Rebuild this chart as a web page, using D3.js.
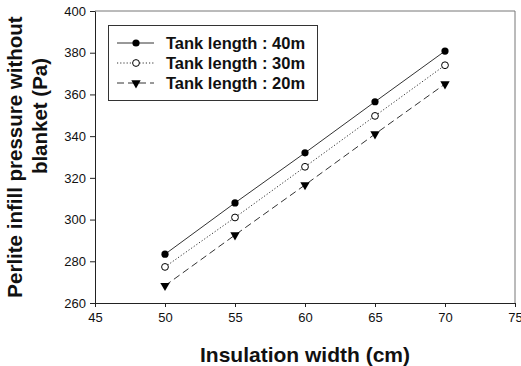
<!DOCTYPE html>
<html>
<head>
<meta charset="utf-8">
<script src="https://cdn.jsdelivr.net/npm/d3@7.9.0/dist/d3.min.js"></script>
<style>
  body { margin: 0; background: #fff; }
  svg { display: block; font-family: Arial, "Liberation Sans", sans-serif; }
</style>
</head>
<body>
<svg id="chart" width="521" height="366"></svg>
<script>
const widths = [50, 55, 60, 65, 70];
const len40 = [283.4, 308, 332, 356.5, 380.8];
const len30 = [277.3, 301, 325.3, 349.7, 374];
const len20 = [268.3, 292.6, 316.6, 341, 365];
const seriesNames = ['Tank length : 40m', 'Tank length : 30m', 'Tank length : 20m'];
const xTicks = [45, 50, 55, 60, 65, 70, 75];
const yTicks = [260, 280, 300, 320, 340, 360, 380, 400];

const svg = d3.select('#chart');
const L = 95, R = 515, T = 11, B = 303;

const x = d3.scaleLinear().domain([45, 75]).range([L, R]);
const y = d3.scaleLinear().domain([260, 400]).range([B, T]);

// frame (top/right)
svg.append('path')
  .attr('d', `M${L},${T}H${R}V${B}`)
  .attr('fill', 'none').attr('stroke', '#777').attr('stroke-width', 1);

const xAxis = svg.append('g').attr('transform', `translate(0,${B})`)
  .call(d3.axisBottom(x).tickValues(xTicks).tickSize(4).tickSizeOuter(0).tickPadding(6));
const yAxis = svg.append('g').attr('transform', `translate(${L},0)`)
  .call(d3.axisLeft(y).tickValues(yTicks).tickSize(5).tickSizeOuter(0).tickPadding(4));
[xAxis, yAxis].forEach(a => {
  a.select('.domain').attr('stroke', '#222');
  a.selectAll('.tick line').attr('stroke', '#222');
  a.selectAll('.tick text').attr('fill', '#111').style('font-size', '13px')
    .style('font-family', 'Arial, "Liberation Sans", sans-serif');
});

const series = [
  { name: seriesNames[0], vals: len40, dash: null, marker: 'filled' },
  { name: seriesNames[1], vals: len30, dash: '1.2,2', marker: 'open' },
  { name: seriesNames[2], vals: len20, dash: '7,4', marker: 'tri' },
];

const line = d3.line().x(d => x(d[0])).y(d => y(d[1]));

function drawMarker(g, kind, cx, cy) {
  if (kind === 'filled') {
    g.append('circle').attr('cx', cx).attr('cy', cy).attr('r', 3.6).attr('fill', '#000');
  } else if (kind === 'open') {
    g.append('circle').attr('cx', cx).attr('cy', cy).attr('r', 3.4)
      .attr('fill', '#fff').attr('stroke', '#000').attr('stroke-width', 1);
  } else {
    g.append('path')
      .attr('d', d3.symbol().type(d3.symbolTriangle).size(38))
      .attr('transform', `translate(${cx},${cy}) rotate(180)`)
      .attr('fill', '#000');
  }
}

series.forEach(s => {
  const pts = widths.map((w, i) => [w, s.vals[i]]);
  svg.append('path').attr('d', line(pts))
    .attr('fill', 'none').attr('stroke', '#333').attr('stroke-width', 1)
    .attr('stroke-dasharray', s.dash);
  const g = svg.append('g');
  pts.forEach(p => drawMarker(g, s.marker, x(p[0]), y(p[1])));
});

// legend
const lg = svg.append('g');
lg.append('rect').attr('x', 108.5).attr('y', 25.5).attr('width', 209).attr('height', 75)
  .attr('fill', '#fff').attr('stroke', '#333').attr('stroke-width', 1);
series.forEach((s, i) => {
  const ry = 43 + i * 20;
  lg.append('line').attr('x1', 117).attr('x2', 154).attr('y1', ry).attr('y2', ry)
    .attr('stroke', '#333').attr('stroke-width', 1).attr('stroke-dasharray', s.dash);
  drawMarker(lg, s.marker, 136, ry);
  lg.append('text').attr('x', 166).attr('y', ry).attr('dy', '0.36em')
    .style('font-size', '16.5px').style('font-weight', 'bold').attr('fill', '#111')
    .text(s.name);
});

// axis titles
svg.append('text').attr('x', 305).attr('y', 361.5)
  .attr('text-anchor', 'middle').style('font-size', '21px').style('font-weight', 'bold')
  .attr('fill', '#111').text('Insulation width (cm)');
svg.append('text').attr('transform', 'translate(22,157) rotate(-90)')
  .attr('text-anchor', 'middle').style('font-size', '20.5px').style('font-weight', 'bold')
  .attr('fill', '#111').text('Perlite infill pressure without');
svg.append('text').attr('transform', 'translate(47,116) rotate(-90)')
  .attr('text-anchor', 'middle').style('font-size', '20.5px').style('font-weight', 'bold')
  .attr('fill', '#111').text('blanket (Pa)');
</script>
</body>
</html>
